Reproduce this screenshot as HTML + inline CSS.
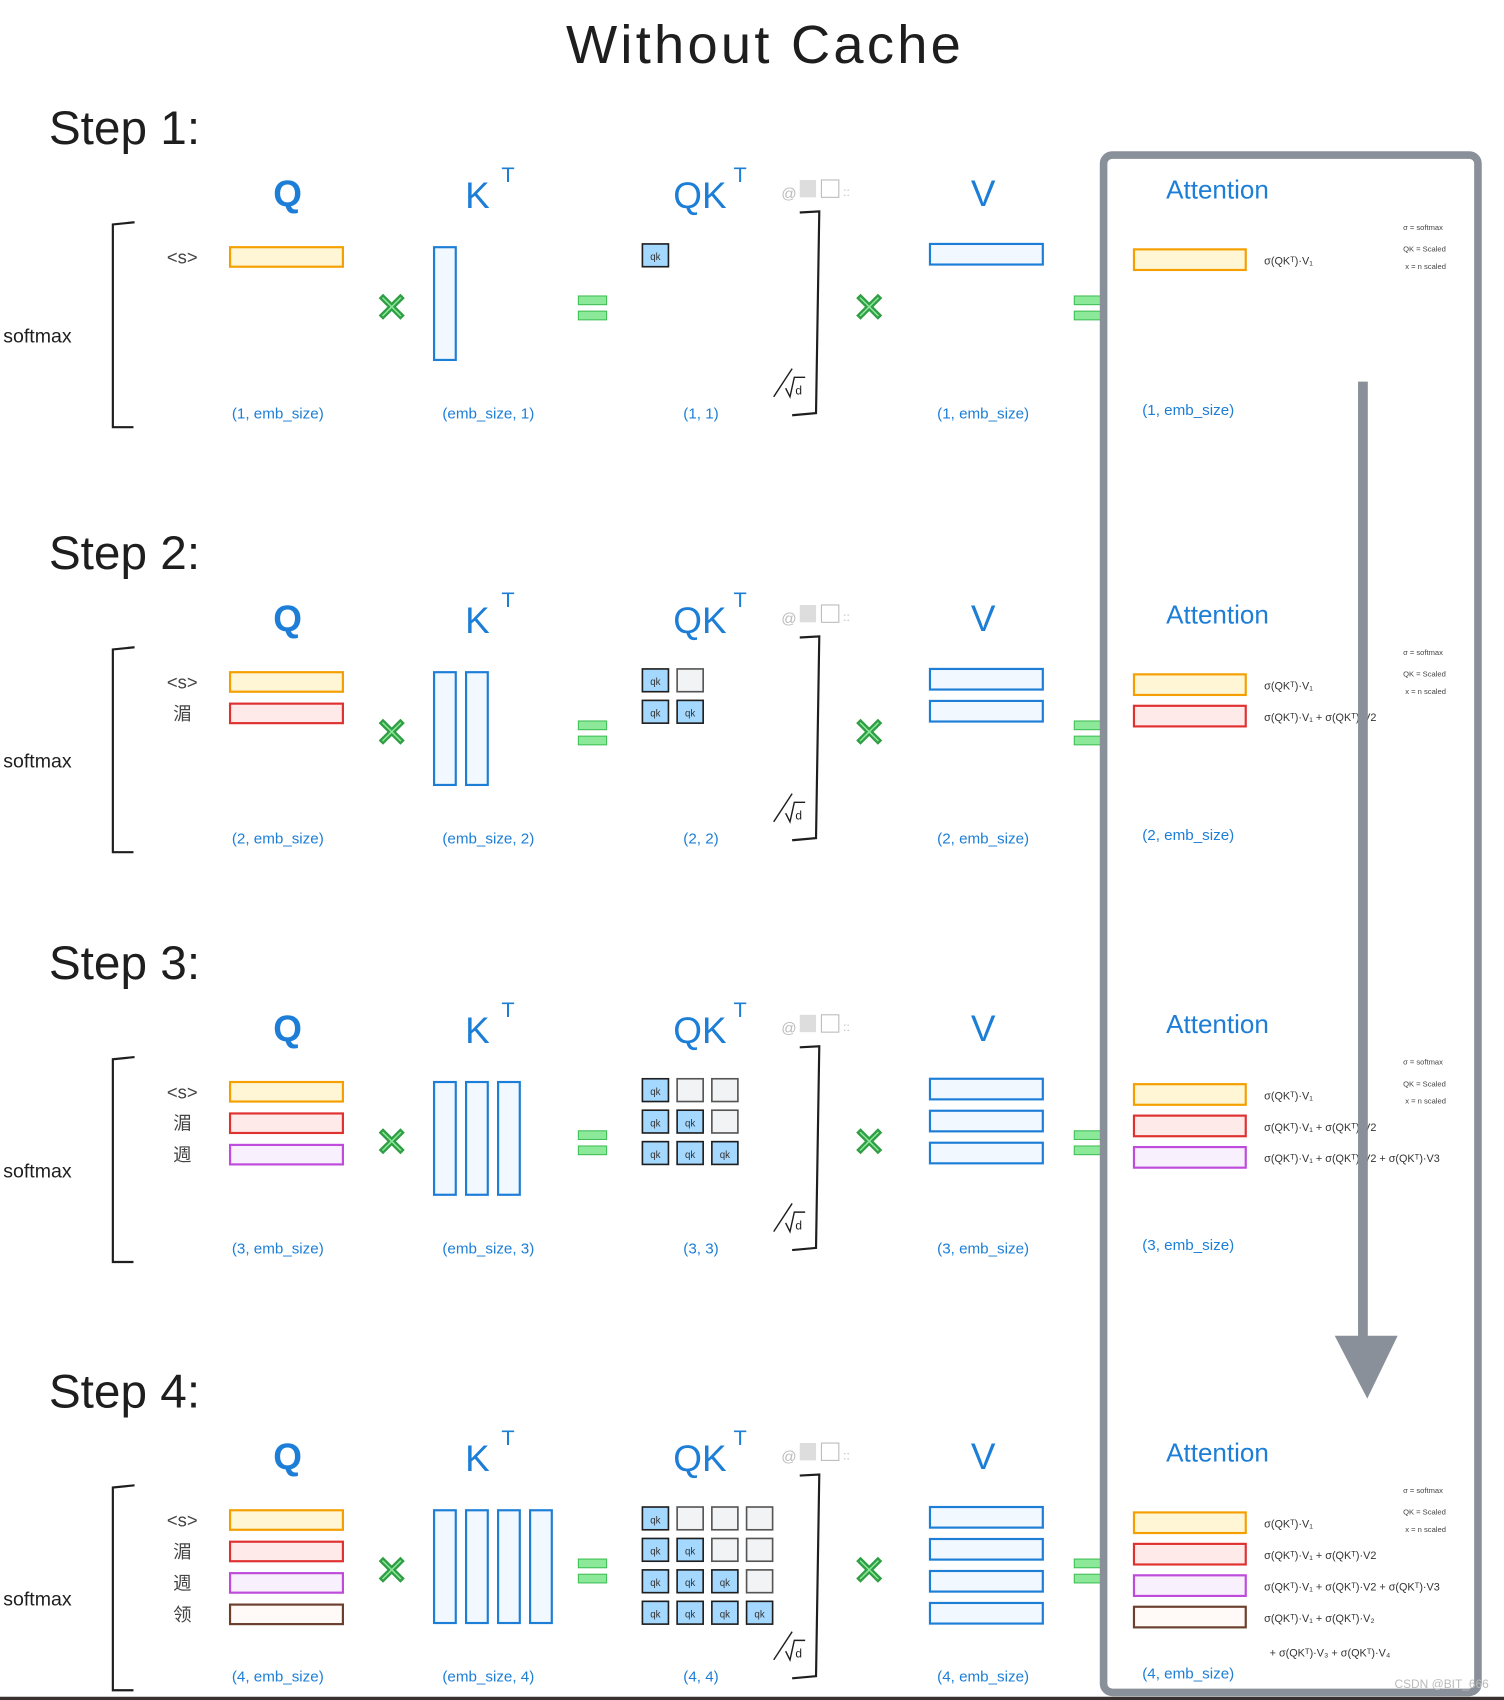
<!DOCTYPE html>
<html><head><meta charset="utf-8">
<style>
html,body{margin:0;padding:0;background:#fff;}
svg{display:block;}
text{font-family:"Liberation Sans","Noto Sans CJK SC",sans-serif;}
</style></head>
<body>
<svg id="s" width="1504" height="1700" viewBox="0 0 1386 1568" preserveAspectRatio="none" xmlns="http://www.w3.org/2000/svg">
<rect x="0" y="0" width="1386" height="1568" fill="#fff"/>
<text x="705" y="58" font-size="50" text-anchor="middle" fill="#1e1e1e" letter-spacing="3">Without Cache</text>
<g id="g"></g>
<rect x="1017" y="143" width="345" height="1418" rx="8" fill="none" stroke="#8a9099" stroke-width="7"/>
<line x1="1256" y1="352" x2="1256" y2="1235" stroke="#8a9099" stroke-width="9"/>
<polygon points="1230,1232 1288,1232 1260,1290" fill="#8a9099"/>
<rect x="0" y="1565" width="1386" height="3" fill="#3a3030"/>
<text x="1372" y="1557" font-size="11" text-anchor="end" fill="#bbb">CSDN @BIT_666</text>
</svg>
<script>
const g=document.getElementById('g');let h='';
const offs=[0,392,770,1165];
const cols=[['#f59f00','#fff6d5'],['#e03131','#ffeaea'],['#be4bdb','#f9f0fd'],['#6b3f2e','#fffaf8']];
const toks=['<s>','湄','週','领'];
const blue='#1c7ed6';
for(let s=0;s<4;s++){
 const o=offs[s],n=s+1;
 h+=`<text x="45" y="${o+133}" font-size="44" fill="#1e1e1e">Step ${n}:</text>`;
 h+=`<text x="265" y="${o+190}" font-size="34" font-weight="bold" fill="${blue}" text-anchor="middle">Q</text>`;
 h+=`<text x="440" y="${o+192}" font-size="34" fill="${blue}" text-anchor="middle">K</text><text x="462" y="${o+168}" font-size="20" fill="${blue}">T</text>`;
 h+=`<text x="645" y="${o+192}" font-size="34" fill="${blue}" text-anchor="middle">QK</text><text x="676" y="${o+168}" font-size="20" fill="${blue}">T</text>`;
 h+=`<text x="720" y="${o+183}" font-size="14" fill="#bbb">@</text><rect x="737" y="${o+166}" width="15" height="16" fill="#ddd"/><rect x="757" y="${o+166}" width="16" height="16" fill="none" stroke="#bbb"/><text x="777" y="${o+181}" font-size="11" fill="#bbb">::</text>`;
 h+=`<text x="906" y="${o+190}" font-size="34" fill="${blue}" text-anchor="middle">V</text>`;
 h+=`<text x="1122" y="${o+183}" font-size="24" fill="${blue}" text-anchor="middle">Attention</text>`;
 // left bracket
 h+=`<path d="M124 ${o+205} L104 ${o+207} L104 ${o+394} L123 ${o+394}" fill="none" stroke="#1e1e1e" stroke-width="2"/>`;
 h+=`<text x="3" y="${o+316}" font-size="18" fill="#1e1e1e">softmax</text>`;
 // right bracket
 h+=`<path d="M737 ${o+196} L755 ${o+195} L752 ${o+381} L730 ${o+383}" fill="none" stroke="#1e1e1e" stroke-width="2"/>`;
 h+=`<path d="M713 ${o+366} L730 ${o+340} M724 ${o+358} L728 ${o+366} L732 ${o+348} L742 ${o+348}" fill="none" stroke="#1e1e1e" stroke-width="1.3"/><text x="733" y="${o+364}" font-size="11" fill="#1e1e1e">d</text>`;
 // operators
 for(const x of [361,801]) h+=`<text x="${x}" y="${o+296}" font-size="36" font-weight="bold" fill="#8ce99a" stroke="#2f9e44" stroke-width="1" text-anchor="middle">✕</text>`;
 for(const x of [546,1003]) h+=`<rect x="${x-13}" y="${o+273}" width="26" height="8" fill="#8ce99a" stroke="#40c057"/><rect x="${x-13}" y="${o+287}" width="26" height="8" fill="#8ce99a" stroke="#40c057"/>`;
 for(let r=0;r<n;r++){
  const y=o+228+r*29;const [c,f]=cols[r];
  h+=`<text x="168" y="${y+15}" font-size="17" fill="#444" text-anchor="middle">${toks[r].replace('<','&lt;').replace('>','&gt;')}</text>`;
  h+=`<rect x="212" y="${y}" width="104" height="18" fill="${f}" stroke="${c}" stroke-width="2"/>`;
  h+=`<rect x="${400+r*29.5}" y="${o+228}" width="20" height="104" fill="#f2f8ff" stroke="${blue}" stroke-width="2"/>`;
  h+=`<rect x="857" y="${o+225+r*29.5}" width="104" height="19" fill="#f2f8ff" stroke="${blue}" stroke-width="2"/>`;
  h+=`<rect x="1045" y="${o+230+r*29}" width="103" height="19" fill="${f}" stroke="${c}" stroke-width="2"/>`;
  for(let cc=0;cc<n;cc++){
   const on=cc<=r;
   h+=`<rect x="${592+cc*32}" y="${o+225+r*29}" width="24" height="21" fill="${on?'#a5d8ff':'#f1f3f5'}" stroke="${on?'#1e1e1e':'#555'}" stroke-width="1.5"/>`;
   if(on) h+=`<text x="${604+cc*32}" y="${o+240+r*29}" font-size="9" fill="#333" text-anchor="middle">qk</text>`;
  }
  let fm='σ(QK'+'ᵀ)·V₁';for(let k=2;k<=r+1&&r<3;k++) fm+=' + σ(QKᵀ)·V'+k;
  if(r==3) fm='σ(QKᵀ)·V₁ + σ(QKᵀ)·V₂';
  h+=`<text x="1165" y="${o+244+r*29}" font-size="10" fill="#333">${fm}</text>`;
 }
 if(n==4) h+=`<text x="1170" y="${o+247+4*29}" font-size="10" fill="#333">+ σ(QKᵀ)·V₃ + σ(QKᵀ)·V₄</text>`;
 h+=`<text x="1293" y="${o+212}" font-size="7" fill="#444">σ = softmax</text><text x="1293" y="${o+232}" font-size="7" fill="#444">QK = Scaled</text><text x="1295" y="${o+248}" font-size="7" fill="#444">x = n scaled</text>`;
 const dims=[[256,'('+n+', emb_size)'],[450,'(emb_size, '+n+')'],[646,'('+n+', '+n+')'],[906,'('+n+', emb_size)']];
 for(const [x,t] of dims) h+=`<text x="${x}" y="${o+386}" font-size="14" fill="${blue}" text-anchor="middle">${t}</text>`;
 h+=`<text x="1095" y="${o+383}" font-size="14" fill="${blue}" text-anchor="middle">(${n}, emb_size)</text>`;
}
g.innerHTML=h;
</script>
</body></html>
